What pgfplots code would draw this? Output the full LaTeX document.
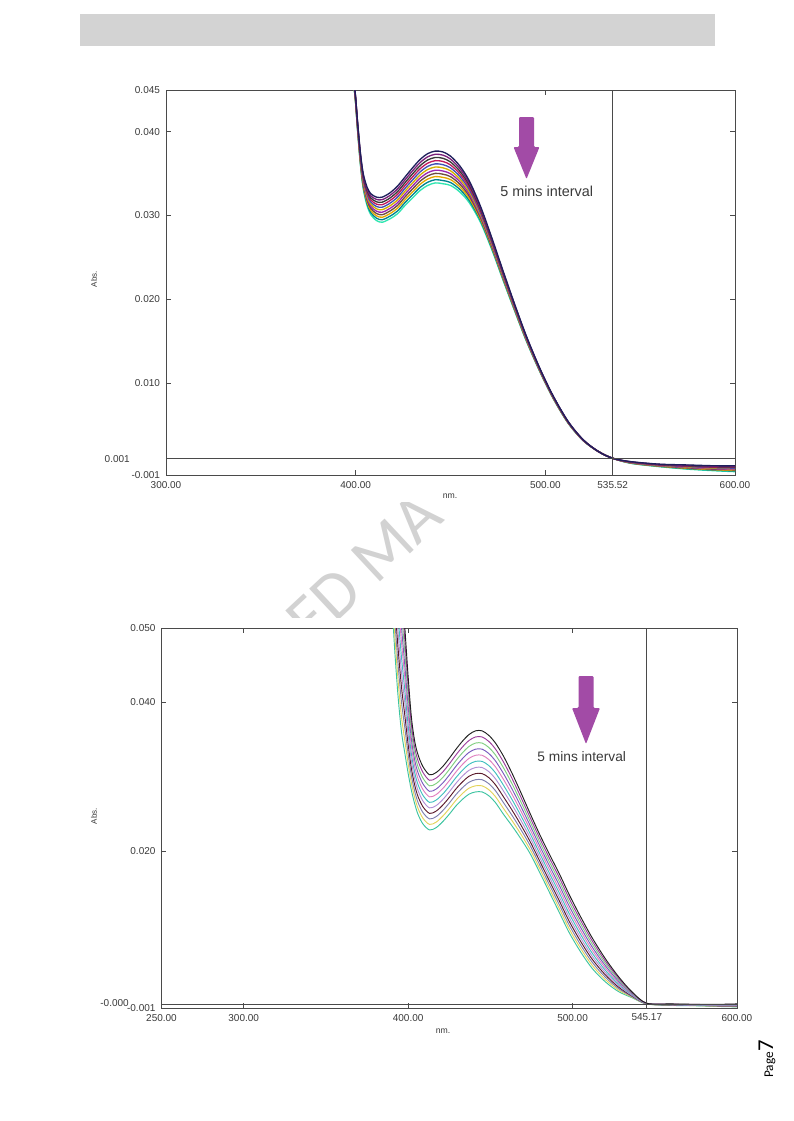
\documentclass[border=0pt]{standalone}
\usepackage{pgfplots}
\pgfplotsset{compat=1.18}
\usepackage{pgfplotstable}
\usepackage{fontspec}
\setmainfont{Liberation Sans}
\newfontfamily\wmfont{Carlito}
\newfontfamily\pagefont{Carlito}

\definecolor{hdr}{HTML}{D3D3D3}
\definecolor{arrowpurple}{HTML}{A24BA6}
\definecolor{axgray}{HTML}{4A4A4A}
\definecolor{txtgray}{HTML}{3A3A3A}
\definecolor{wm}{HTML}{D2D2D2}
% top chart colours
\definecolor{tc0}{HTML}{1F1F5C}
\definecolor{tc1}{HTML}{7A1F7A}
\definecolor{tc2}{HTML}{3A3A3A}
\definecolor{tc3}{HTML}{C2185B}
\definecolor{tc4}{HTML}{3F51B5}
\definecolor{tc5}{HTML}{D4B000}
\definecolor{tc6}{HTML}{9C27B0}
\definecolor{tc7}{HTML}{6D4C41}
\definecolor{tc8}{HTML}{E6A800}
\definecolor{tc9}{HTML}{00838F}
\definecolor{tc10}{HTML}{2EE6B0}
% bottom chart colours
\definecolor{bc0}{HTML}{202020}
\definecolor{bc1}{HTML}{9C3D9C}
\definecolor{bc2}{HTML}{7FCF7F}
\definecolor{bc3}{HTML}{7B5BBF}
\definecolor{bc4}{HTML}{E07FBF}
\definecolor{bc5}{HTML}{3FBFBF}
\definecolor{bc6}{HTML}{B38FD6}
\definecolor{bc7}{HTML}{5A1A2A}
\definecolor{bc8}{HTML}{7F7FAF}
\definecolor{bc9}{HTML}{E3D35A}
\definecolor{bc10}{HTML}{3CC4A0}

% absorbance in mAbs (0.001 Abs = 1)
\pgfplotstableread{
nm c0 c1 c2 c3 c4 c5 c6 c7 c8 c9 c10
397.5 47.00 46.97 46.94 46.91 46.88 46.85 46.82 46.79 46.76 46.73 46.70
399.5 45.20 45.14 45.08 45.02 44.96 44.90 44.84 44.78 44.72 44.66 44.60
401 41.20 41.10 41.00 40.90 40.80 40.70 40.60 40.50 40.40 40.30 40.20
402.5 37.50 37.36 37.22 37.08 36.94 36.80 36.66 36.52 36.38 36.24 36.10
404 35.00 34.82 34.64 34.46 34.28 34.10 33.92 33.74 33.56 33.38 33.20
406 33.40 33.18 32.96 32.74 32.52 32.30 32.08 31.86 31.64 31.42 31.20
408 32.60 32.35 32.10 31.85 31.60 31.35 31.10 30.85 30.60 30.35 30.10
411 32.20 31.92 31.64 31.36 31.08 30.80 30.52 30.24 29.96 29.68 29.40
414 32.20 31.90 31.60 31.30 31.00 30.70 30.40 30.10 29.80 29.50 29.20
418 32.70 32.39 32.08 31.77 31.46 31.15 30.84 30.53 30.22 29.91 29.60
422 33.50 33.17 32.84 32.51 32.18 31.85 31.52 31.19 30.86 30.53 30.20
426 34.60 34.26 33.92 33.58 33.24 32.90 32.56 32.22 31.88 31.54 31.20
430 35.70 35.34 34.98 34.62 34.26 33.90 33.54 33.18 32.82 32.46 32.10
434 36.70 36.33 35.96 35.59 35.22 34.85 34.48 34.11 33.74 33.37 33.00
438 37.40 37.02 36.64 36.26 35.88 35.50 35.12 34.74 34.36 33.98 33.60
442 37.70 37.32 36.94 36.56 36.18 35.80 35.42 35.04 34.66 34.28 33.90
446 37.60 37.22 36.84 36.46 36.08 35.70 35.32 34.94 34.56 34.18 33.80
450 37.10 36.75 36.40 36.05 35.70 35.35 35.00 34.65 34.30 33.95 33.60
455 35.90 35.59 35.28 34.97 34.66 34.35 34.04 33.73 33.42 33.11 32.80
460 34.10 33.84 33.58 33.32 33.06 32.80 32.54 32.28 32.02 31.76 31.50
466 31.00 30.81 30.62 30.43 30.24 30.05 29.86 29.67 29.48 29.29 29.10
472 27.20 27.06 26.92 26.78 26.64 26.50 26.36 26.22 26.08 25.94 25.80
478 23.20 23.09 22.98 22.87 22.76 22.65 22.54 22.43 22.32 22.21 22.10
484 19.30 19.22 19.14 19.06 18.98 18.90 18.82 18.74 18.66 18.58 18.50
490 15.60 15.54 15.48 15.42 15.36 15.30 15.24 15.18 15.12 15.06 15.00
497 11.80 11.76 11.72 11.68 11.64 11.60 11.56 11.52 11.48 11.44 11.40
504 8.50 8.47 8.44 8.41 8.38 8.35 8.32 8.29 8.26 8.23 8.20
512 5.40 5.38 5.36 5.34 5.32 5.30 5.28 5.26 5.24 5.22 5.20
520 3.20 3.19 3.18 3.17 3.16 3.15 3.14 3.13 3.12 3.11 3.10
528 1.80 1.80 1.80 1.80 1.80 1.80 1.80 1.80 1.80 1.80 1.80
535.5 1.00 1.00 1.00 1.00 1.00 1.00 1.00 1.00 1.00 1.00 1.00
545 0.60 0.58 0.56 0.54 0.52 0.50 0.48 0.46 0.44 0.42 0.40
560 0.30 0.27 0.24 0.21 0.18 0.15 0.12 0.09 0.06 0.03 0.00
575 0.20 0.15 0.10 0.05 0.00 -0.05 -0.10 -0.15 -0.20 -0.25 -0.30
590 0.10 0.04 -0.02 -0.08 -0.14 -0.20 -0.26 -0.32 -0.38 -0.44 -0.50
600 0.10 0.03 -0.04 -0.11 -0.18 -0.25 -0.32 -0.39 -0.46 -0.53 -0.60
}\topdata

\pgfplotstableread{
nm c0 c1 c2 c3 c4 c5 c6 c7 c8 c9 c10
390 74.00 72.00 70.00 68.00 66.00 64.00 62.00 60.00 58.00 56.00 54.00
392 68.00 65.85 63.70 61.55 59.40 57.25 55.10 52.95 50.80 48.65 46.50
394 62.00 59.85 57.70 55.55 53.40 51.25 49.10 46.95 44.80 42.65 40.50
396 56.00 54.00 52.00 50.00 48.00 46.00 44.00 42.00 40.00 38.00 36.00
398 50.00 48.32 46.64 44.96 43.28 41.60 39.92 38.24 36.56 34.88 33.20
400 43.50 42.20 40.90 39.60 38.30 37.00 35.70 34.40 33.10 31.80 30.50
402 38.00 37.02 36.04 35.06 34.08 33.10 32.12 31.14 30.16 29.18 28.20
404 34.80 33.96 33.12 32.28 31.44 30.60 29.76 28.92 28.08 27.24 26.40
406 33.00 32.20 31.40 30.60 29.80 29.00 28.20 27.40 26.60 25.80 25.00
409 31.40 30.63 29.86 29.09 28.32 27.55 26.78 26.01 25.24 24.47 23.70
413 30.30 29.56 28.82 28.08 27.34 26.60 25.86 25.12 24.38 23.64 22.90
417 30.60 29.86 29.12 28.38 27.64 26.90 26.16 25.42 24.68 23.94 23.20
421 31.40 30.66 29.92 29.18 28.44 27.70 26.96 26.22 25.48 24.74 24.00
425 32.50 31.75 31.00 30.25 29.50 28.75 28.00 27.25 26.50 25.75 25.00
429 33.70 32.94 32.18 31.42 30.66 29.90 29.14 28.38 27.62 26.86 26.10
433 34.80 34.02 33.24 32.46 31.68 30.90 30.12 29.34 28.56 27.78 27.00
437 35.70 34.90 34.10 33.30 32.50 31.70 30.90 30.10 29.30 28.50 27.70
441 36.20 35.38 34.56 33.74 32.92 32.10 31.28 30.46 29.64 28.82 28.00
445 36.20 35.38 34.56 33.74 32.92 32.10 31.28 30.46 29.64 28.82 28.00
449 35.60 34.79 33.98 33.17 32.36 31.55 30.74 29.93 29.12 28.31 27.50
453 34.60 33.80 33.00 32.20 31.40 30.60 29.80 29.00 28.20 27.40 26.60
458 32.80 32.02 31.24 30.46 29.68 28.90 28.12 27.34 26.56 25.78 25.00
463 30.60 29.89 29.18 28.47 27.76 27.05 26.34 25.63 24.92 24.21 23.50
468 28.20 27.57 26.94 26.31 25.68 25.05 24.42 23.79 23.16 22.53 21.90
474 25.20 24.66 24.12 23.58 23.04 22.50 21.96 21.42 20.88 20.34 19.80
480 22.30 21.79 21.28 20.77 20.26 19.75 19.24 18.73 18.22 17.71 17.20
486 19.60 19.09 18.58 18.07 17.56 17.05 16.54 16.03 15.52 15.01 14.50
492 17.00 16.48 15.96 15.44 14.92 14.40 13.88 13.36 12.84 12.32 11.80
498 14.20 13.69 13.18 12.67 12.16 11.65 11.14 10.63 10.12 9.61 9.10
505 11.20 10.73 10.26 9.79 9.32 8.85 8.38 7.91 7.44 6.97 6.50
512 8.40 7.99 7.58 7.17 6.76 6.35 5.94 5.53 5.12 4.71 4.30
520 5.60 5.29 4.98 4.67 4.36 4.05 3.74 3.43 3.12 2.81 2.50
528 3.20 3.00 2.80 2.60 2.40 2.20 2.00 1.80 1.60 1.40 1.20
536 1.20 1.12 1.04 0.96 0.88 0.80 0.72 0.64 0.56 0.48 0.40
545 -0.35 -0.36 -0.37 -0.38 -0.39 -0.40 -0.41 -0.42 -0.43 -0.44 -0.45
560 -0.45 -0.47 -0.49 -0.51 -0.53 -0.55 -0.57 -0.59 -0.61 -0.63 -0.65
575 -0.50 -0.52 -0.54 -0.56 -0.58 -0.60 -0.62 -0.64 -0.66 -0.68 -0.70
590 -0.50 -0.53 -0.56 -0.59 -0.62 -0.65 -0.68 -0.71 -0.74 -0.77 -0.80
600 -0.45 -0.49 -0.53 -0.57 -0.61 -0.65 -0.69 -0.73 -0.77 -0.81 -0.85
}\botdata

\newcommand\tickfont{\fontsize{7.5}{8}\selectfont}
\def\U{0.75pt}

\pgfplotsset{
  specax/.style={
    scale only axis, clip=true,
    axis line style={draw=axgray, line width=0.7pt},
    tick style={draw=axgray, line width=0.6pt},
    major tick length=3.5pt,
    tick align=inside,
    ticklabel style={font=\tickfont, text=txtgray},
    xticklabel style={yshift=-1pt},
    yticklabel style={xshift=-1pt},
    no markers,
    every axis plot/.append style={smooth, tension=0.5, line join=round},
  },
}

\begin{document}
\begin{tikzpicture}
\path[use as bounding box, fill=white] (0,0) rectangle (793*\U,-1121*\U);
% header bar
\fill[hdr] (80*\U,-14*\U) rectangle (715*\U,-46*\U);
% watermark: only the part between the two chart images shows
\begin{scope}
\clip (76*\U,-502*\U) rectangle (765*\U,-617*\U);
\node[rotate=43, text=wm, inner sep=0pt, font=\wmfont\fontsize{50}{50}\selectfont] at (364*\U,-567*\U) {ED MA};
\end{scope}

% ---------------- top chart ----------------
\begin{axis}[specax,
  at={(166*\U,-90*\U)}, anchor=north west,
  width=426.75pt, height=288.75pt,
  xmin=300, xmax=600, ymin=-1, ymax=45,
  xtick={300,400,500,535.52,600},
  xticklabels={300.00,400.00,500.00,535.52,600.00},
  ytick={-1,10,20,30,40,45},
  yticklabels={-0.001,0.010,0.020,0.030,0.040,0.045},
  cycle list={{tc10},{tc9},{tc8},{tc7},{tc6},{tc5},{tc4},{tc3},{tc2},{tc1},{tc0}},
]
\pgfplotsinvokeforeach{10,9,...,0}{
  \addplot+[line width=1.0pt] table[x=nm, y=c#1]{\topdata};
}
\addplot[axgray, line width=0.7pt, sharp plot, forget plot] coordinates {(535.52,-1) (535.52,45)};
\addplot[axgray, line width=0.7pt, sharp plot, forget plot] coordinates {(300,1) (600,1)};
\end{axis}

% ---------------- bottom chart ----------------
\begin{axis}[specax,
  at={(161.5*\U,-628*\U)}, anchor=north west,
  width=431.6pt, height=285pt,
  xmin=250, xmax=600, ymin=-1, ymax=50,
  xtick={250,300,400,500,545.17,600},
  xticklabels={250.00,300.00,400.00,500.00,545.17,600.00},
  ytick={-1,20,40,50},
  yticklabels={-0.001,0.020,0.040,0.050},
  cycle list={{bc10},{bc9},{bc8},{bc7},{bc6},{bc5},{bc4},{bc3},{bc2},{bc1},{bc0}},
]
\pgfplotsinvokeforeach{10,9,...,0}{
  \addplot+[line width=0.7pt] table[x=nm, y=c#1]{\botdata};
}
\addplot[axgray, line width=0.7pt, sharp plot, forget plot] coordinates {(545.17,-1) (545.17,50)};
\addplot[axgray, line width=0.7pt, sharp plot, forget plot] coordinates {(250,-0.5) (600,-0.5)};
\end{axis}

% cursor value labels
\node[anchor=east, font=\tickfont, text=txtgray, inner sep=0pt] at (130*\U,-459*\U) {0.001};
\node[anchor=east, font=\tickfont, text=txtgray, inner sep=0pt] at (129*\U,-1003*\U) {-0.000};

% axis titles
\node[rotate=90, font=\fontsize{6}{6}\selectfont, text=txtgray] at (94*\U,-279*\U) {Abs.};
\node[font=\fontsize{6.5}{6.5}\selectfont, text=txtgray] at (450*\U,-496*\U) {nm.};
\node[rotate=90, font=\fontsize{6}{6}\selectfont, text=txtgray] at (94*\U,-816*\U) {Abs.};
\node[font=\fontsize{6.5}{6.5}\selectfont, text=txtgray] at (443*\U,-1031*\U) {nm.};

% arrows and annotations
\fill[arrowpurple, rounded corners=0.8pt] (519*\U,-117*\U) -- (534*\U,-117*\U) -- (534*\U,-147*\U) -- (539.5*\U,-147*\U) -- (526.5*\U,-179*\U) -- (513.5*\U,-147*\U) -- (519*\U,-147*\U) -- cycle;
\node[font=\fontsize{10.8}{11}\selectfont, text=txtgray] at (546.7*\U,-191.7*\U) {5 mins interval};
\fill[arrowpurple, rounded corners=0.8pt] (578.5*\U,-676*\U) -- (593.5*\U,-676*\U) -- (593.5*\U,-708*\U) -- (600*\U,-708*\U) -- (586*\U,-744*\U) -- (572*\U,-708*\U) -- (578.5*\U,-708*\U) -- cycle;
\node[font=\fontsize{10.3}{11}\selectfont, text=txtgray] at (581.7*\U,-756.5*\U) {5 mins interval};

% page number
\node[rotate=90, anchor=base west, inner sep=0pt] at (773*\U,-1078*\U) {\pagefont\fontsize{10}{10}\selectfont Page\fontsize{17}{17}\selectfont 7};
\end{tikzpicture}
\end{document}
